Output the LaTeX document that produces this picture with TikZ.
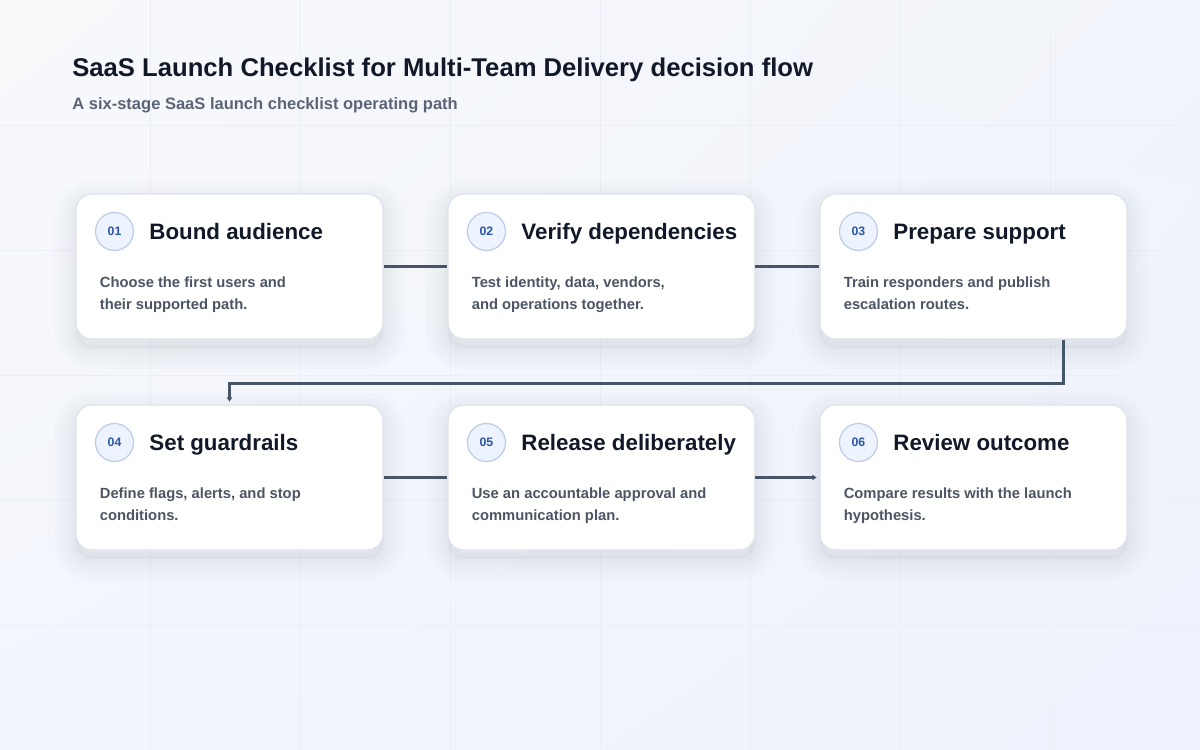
\documentclass[tikz,border=0pt]{standalone}
\usepackage{fontspec}
\setmainfont{Liberation Sans}
\usepackage{tikz}
\usetikzlibrary{arrows.meta,shadings}
\usetikzlibrary{positioning}
\definecolor{bgtl}{HTML}{F8F9FB}
\definecolor{bgtr}{HTML}{F1F4FA}
\definecolor{bgbl}{HTML}{F2F5FD}
\definecolor{bgbr}{HTML}{EDF2FC}
\definecolor{gridc}{HTML}{EAEEF5}
\definecolor{inkdark}{HTML}{111827}
\definecolor{inkgrey}{HTML}{5B6475}
\definecolor{bodygrey}{HTML}{4B5563}
\definecolor{cardline}{HTML}{DCE2EC}
\definecolor{badgefill}{HTML}{EEF4FF}
\definecolor{badgeline}{HTML}{BCCDEA}
\definecolor{badgeink}{HTML}{2C56A6}
\definecolor{flowc}{HTML}{475569}
\definecolor{shadowc}{HTML}{334155}
\tikzset{card shade/.style={preaction={draw=shadowc,draw opacity=0.016,line width=#1,
			transform canvas={yshift=-5pt}}},
	stage card/.style={rectangle,rounded corners=0.32cm,fill=white,draw=cardline,line width=0.6pt,
		minimum width=6.14cm,minimum height=2.9cm,inner sep=0pt,
		preaction={fill=shadowc,fill opacity=0.03,transform canvas={yshift=-5pt}},
		card shade=24pt,card shade=18pt,card shade=12pt,card shade=7pt,card shade=3pt},
	badge node/.style={circle,fill=badgefill,draw=badgeline,line width=0.7pt,minimum size=0.76cm,inner sep=0pt,
		text=badgeink,font=\fontsize{7}{8}\selectfont\bfseries},
	stage title/.style={inner sep=0pt,text height=9.1pt,text depth=0pt,text=inkdark,font=\fontsize{12.7}{15}\selectfont\bfseries},
	stage text/.style={anchor=north west,inner sep=0pt,align=left,text=bodygrey,font=\fontsize{8.4}{12.5}\selectfont\bfseries},
	flow line/.style={draw=flowc,line width=2pt,-{Latex[length=2.5pt,width=3.5pt]},shorten >=1.5pt},
	grid line/.style={draw=gridc,line width=0.5pt},
}

\begin{document}
\begin{tikzpicture}[x=0.02cm,y=-0.02cm]
		\useasboundingbox (0,0) rectangle (1200,750);
		\shade[upper left=bgtl,upper right=bgtr,lower left=bgbl,lower right=bgbr] (0,0) rectangle (1200,750);
		\foreach \gx in {150,300,...,1050} \draw[grid line] (\gx,0) -- (\gx,750);
		\foreach \gy in {125,250,...,625} \draw[grid line] (0,\gy) -- (1200,\gy);
		
		\node[anchor=west,inner sep=0pt,text=inkdark,font=\fontsize{14.6}{17}\selectfont\bfseries] (title) at (72,70) {SaaS Launch Checklist for Multi-Team Delivery decision flow};
		\node[anchor=west,inner sep=0pt,text=inkgrey,font=\fontsize{9.4}{11}\selectfont\bfseries] (subtitle) at (72,105) {A six-stage SaaS launch checklist operating path};
		
		\node[stage card] (c1) at (229.5,266.5) {};
		\node[stage card] (c2) [right = 1.28cm of c1] {};
		\node[stage card] (c3) [right = 1.28cm of c2] {};
		\node[stage card] (c4) [below = 1.3cm of c1] {};
		\node[stage card] (c5) [right = 1.28cm of c4] {};
		\node[stage card] (c6) [right = 1.28cm of c5] {};
		
		\path[flow line]
		(c1) -- (c2)
		(c2) -- (c3)
		(c4) -- (c5)
		(c5) -- (c6);
		\draw[flow line] ([xshift=1.8cm]c3.south) -- ++(0,44) -| (c4.north);
		%%
		\node[badge node] (b1) at ([shift={(39,38)}]c1.north west) {01};
		\node[stage title] (t1) [right = 0.3cm of b1] {Bound audience};
		\node[stage text] (d1) at ([shift={(24,83)}]c1.north west) {Choose the first users and\\their supported path.};
		
		\node[badge node] (b2) at ([shift={(39,38)}]c2.north west) {02};
		\node[stage title] (t2) [right = 0.3cm of b2] {Verify dependencies};
		\node[stage text] (d2) at ([shift={(24,83)}]c2.north west) {Test identity, data, vendors,\\and operations together.};
		
		\node[badge node] (b3) at ([shift={(39,38)}]c3.north west) {03};
		\node[stage title] (t3) [right = 0.3cm of b3] {Prepare support};
		\node[stage text] (d3) at ([shift={(24,83)}]c3.north west) {Train responders and publish\\escalation routes.};
		
		\node[badge node] (b4) at ([shift={(39,38)}]c4.north west) {04};
		\node[stage title] (t4) [right = 0.3cm of b4] {Set guardrails};
		\node[stage text] (d4) at ([shift={(24,83)}]c4.north west) {Define flags, alerts, and stop\\conditions.};
		
		\node[badge node] (b5) at ([shift={(39,38)}]c5.north west) {05};
		\node[stage title] (t5) [right = 0.3cm of b5] {Release deliberately};
		\node[stage text] (d5) at ([shift={(24,83)}]c5.north west) {Use an accountable approval and\\communication plan.};
		
		\node[badge node] (b6) at ([shift={(39,38)}]c6.north west) {06};
		\node[stage title] (t6) [right = 0.3cm of b6] {Review outcome};
		\node[stage text] (d6) at ([shift={(24,83)}]c6.north west) {Compare results with the launch\\hypothesis.};
	\end{tikzpicture}
\end{document}
